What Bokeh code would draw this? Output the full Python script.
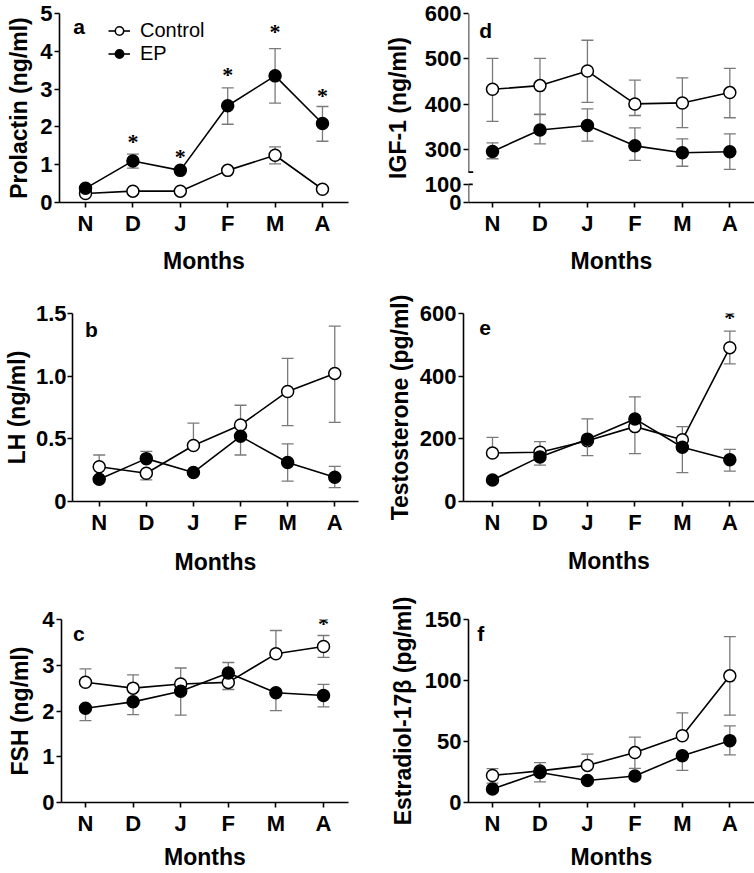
from bokeh.plotting import figure
from bokeh.layouts import row, column
from bokeh.models import (Range1d, FixedTicker, Legend, LegendItem, Label, LabelSet,
                          ColumnDataSource, Arrow)
from bokeh.embed import file_html
from bokeh.resources import INLINE

FONT = "Liberation Sans"
ERR = "#7a7a7a"

months = ["N", "D", "J", "F", "M", "A"]
xpos = [0, 1, 2, 3, 4, 5]

# a  Prolactin (ng/ml)
prl_ctrl = [0.24, 0.30, 0.30, 0.85, 1.25, 0.35]
prl_ctrl_hi = [0.24, 0.30, 0.30, 0.85, 1.47, 0.35]
prl_ctrl_lo = [0.24, 0.30, 0.30, 0.85, 1.02, 0.35]
prl_ep = [0.375, 1.10, 0.85, 2.56, 3.35, 2.09]
prl_ep_hi = [0.375, 1.28, 0.85, 3.03, 4.07, 2.54]
prl_ep_lo = [0.375, 0.91, 0.85, 2.07, 2.63, 1.62]
prl_star_x = [1, 2, 3, 4, 5]
prl_star_y = [1.42, 1.03, 3.19, 4.33, 2.64]

# b  LH (ng/ml)
lh_ctrl = [0.277, 0.225, 0.447, 0.611, 0.878, 1.022]
lh_ctrl_hi = [0.371, 0.225, 0.625, 0.768, 1.142, 1.40]
lh_ctrl_lo = [0.277, 0.172, 0.447, 0.611, 0.606, 0.632]
lh_ep = [0.178, 0.342, 0.232, 0.52, 0.311, 0.193]
lh_ep_hi = [0.178, 0.40, 0.232, 0.52, 0.46, 0.28]
lh_ep_lo = [0.178, 0.342, 0.232, 0.371, 0.162, 0.11]

# c  FSH (ng/ml)
fsh_ctrl = [2.63, 2.50, 2.59, 2.625, 3.25, 3.41]
fsh_ctrl_hi = [2.92, 2.79, 2.94, 2.625, 3.76, 3.65]
fsh_ctrl_lo = [2.63, 2.50, 2.59, 2.47, 3.25, 3.17]
fsh_ep = [2.06, 2.20, 2.43, 2.83, 2.40, 2.34]
fsh_ep_hi = [2.06, 2.20, 2.43, 3.06, 2.40, 2.58]
fsh_ep_lo = [1.79, 1.92, 1.91, 2.83, 2.01, 2.09]
fsh_star_x = [5]
fsh_star_y = [3.74]

# d  IGF-1 (ng/ml)  (broken axis)
igf_ctrl = [432.8, 440.9, 473, 400.5, 402.7, 425.5]
igf_ctrl_hi = [501, 501, 541, 453, 458, 479]
igf_ctrl_lo = [362, 378, 404, 375, 348, 370]
igf_ep = [295.6, 343, 352.8, 308, 292.7, 294.9]
igf_ep_hi = [314.7, 377, 389.5, 347.7, 323.5, 334.5]
igf_ep_lo = [279.5, 312.5, 318.3, 275.8, 263, 256]

# e  Testosterone (pg/ml)
tes_ctrl = [155, 157, 194, 239, 197, 491]
tes_ctrl_hi = [204.6, 190.9, 263.6, 239, 239, 544]
tes_ctrl_lo = [155, 157, 194, 153, 197, 439]
tes_ep = [68.5, 142.4, 199, 263.6, 173, 133]
tes_ep_hi = [68.5, 142.4, 199, 334, 173, 166.6]
tes_ep_lo = [68.5, 116, 146.6, 263.6, 92, 97]
tes_star_x = [5]
tes_star_y = [562]

# f  Estradiol-17beta (pg/ml)
e2_ctrl = [22.2, 25.9, 30.4, 40.9, 54.7, 103.8]
e2_ctrl_hi = [27.7, 32.7, 39.6, 53.6, 73.4, 136]
e2_ctrl_lo = [22.2, 25.9, 30.4, 28, 54.7, 71.6]
e2_ep = [11.1, 24.6, 18, 21.7, 38.3, 50.7]
e2_ep_hi = [15.8, 24.6, 18, 21.7, 38.3, 62.8]
e2_ep_lo = [11.1, 16.9, 18, 21.7, 26.4, 39.1]


# broken-axis scale for panel d: 0..100 compressed, >=250 linear
def brk(v):
    return v if v >= 200 else 183 + 0.4 * v


def make_fig(w, h, bl, br, bt, bb, xr, yr, yticks, ylabels, ylabel, lab_std, xlab_std, tick_std=2):
    p = figure(width=w, height=h, x_range=Range1d(*xr), y_range=Range1d(*yr),
               output_backend="svg", toolbar_location=None,
               min_border_left=bl, min_border_right=br, min_border_top=bt, min_border_bottom=bb)
    p.outline_line_color = None
    p.xgrid.visible = False
    p.ygrid.visible = False
    p.background_fill_color = "white"
    p.border_fill_color = "white"
    for ax in (p.xaxis[0], p.yaxis[0]):
        ax.axis_line_width = 1.6
        ax.axis_line_color = "black"
        ax.major_tick_line_width = 1.6
        ax.major_tick_line_color = "black"
        ax.major_tick_out = 5
        ax.major_tick_in = 0
        ax.minor_tick_line_color = None
        ax.major_label_text_font = FONT
        ax.major_label_text_font_style = "bold"
        ax.major_label_text_color = "black"
        ax.axis_label_text_font = FONT
        ax.axis_label_text_font_style = "bold"
        ax.axis_label_text_font_size = "23px"
        ax.axis_label_text_color = "black"
    xa = p.xaxis[0]
    xa.ticker = FixedTicker(ticks=xpos)
    xa.major_label_overrides = {i: m for i, m in zip(xpos, months)}
    xa.major_label_text_font_size = "22px"
    xa.major_label_standoff = 3
    xa.axis_label = "Months"
    xa.axis_label_standoff = xlab_std
    ya = p.yaxis[0]
    ya.ticker = FixedTicker(ticks=yticks)
    ya.major_label_overrides = {t: l for t, l in zip(yticks, ylabels)}
    ya.major_label_text_font_size = "22px"
    ya.major_label_standoff = tick_std
    ya.axis_label = ylabel
    ya.axis_label_standoff = lab_std
    return p


def draw_series(p, mean, hi, lo, fill):
    src = ColumnDataSource(dict(x=xpos, y=mean, hi=hi, lo=lo))
    p.segment(x0="x", y0="lo", x1="x", y1="hi", source=src, line_color=ERR, line_width=1.3)
    cx = [x for x, m, v in zip(xpos, mean, hi) if v != m] + [x for x, m, v in zip(xpos, mean, lo) if v != m]
    cy = [v for m, v in zip(mean, hi) if v != m] + [v for m, v in zip(mean, lo) if v != m]
    p.scatter(cx, cy, marker="dash", size=12, line_color=ERR, line_width=1.3)
    ln = p.line("x", "y", source=src, line_color="black", line_width=1.6)
    mk = p.scatter("x", "y", source=src, marker="circle", size=12, fill_color=fill,
                   line_color="black", line_width=1.5)
    return ln, mk


def stars(p, xs, ys):
    src = ColumnDataSource(dict(x=xs, y=ys, t=["*"] * len(xs)))
    p.add_layout(LabelSet(x="x", y="y", text="t", source=src, text_align="center",
                          text_baseline="alphabetic", text_font=FONT, text_font_style="bold",
                          text_font_size="22px", text_color="black"))


def letter(p, t, x, y):
    p.add_layout(Label(x=x, y=y, text=t, text_align="left", text_baseline="alphabetic",
                       text_font=FONT, text_font_style="bold", text_font_size="21px",
                       text_color="black"))


W = 377

# ---- a
pa = make_fig(W, 290, 59, 29, 13, 88, (-0.549, 5.549), (0, 5), [0, 1, 2, 3, 4, 5],
              ["0", "1", "2", "3", "4", "5"], "Prolactin (ng/ml)", 5, 9)
lc, mc = draw_series(pa, prl_ctrl, prl_ctrl_hi, prl_ctrl_lo, "white")
le, me = draw_series(pa, prl_ep, prl_ep_hi, prl_ep_lo, "black")
stars(pa, prl_star_x, prl_star_y)
letter(pa, "a", -0.26, 4.66)
leg = Legend(items=[LegendItem(label="Control", renderers=[lc, mc]),
                    LegendItem(label="EP", renderers=[le, me])],
             location=(49, 137), glyph_width=22, glyph_height=21, label_height=21,
             label_standoff=10, spacing=0, padding=0, margin=0,
             border_line_color=None, background_fill_alpha=0,
             label_text_font=FONT, label_text_font_size="20px", label_text_color="black")
pa.add_layout(leg)

# ---- d
pd_ = make_fig(W, 290, 91, 0, 13, 88, (-0.506, 5.52), (183, 600),
               [brk(0), brk(100), 300, 400, 500, 600],
               ["0", "100", "300", "400", "500", "600"], "IGF-1 (ng/ml)", 11, 9)
pd_.yaxis[0].axis_line_color = None
xs0 = -0.506
for y0, y1 in ((brk(0), brk(100)), (250, 600)):
    pd_.add_layout(Arrow(end=None, x_start=xs0, y_start=y0, x_end=xs0, y_end=y1,
                         line_color="black", line_width=1.6))
pd_.add_layout(Arrow(end=None, x_start=xs0 - 0.1, y_start=250, x_end=xs0 + 0.1, y_end=250,
                     line_color="black", line_width=1.6))
pd_.add_layout(Arrow(end=None, x_start=xs0, y_start=brk(100), x_end=xs0 + 0.09, y_end=brk(100),
                     line_color="black", line_width=1.6))
draw_series(pd_, [brk(v) for v in igf_ctrl], [brk(v) for v in igf_ctrl_hi],
            [brk(v) for v in igf_ctrl_lo], "white")
draw_series(pd_, [brk(v) for v in igf_ep], [brk(v) for v in igf_ep_hi],
            [brk(v) for v in igf_ep_lo], "black")
letter(pd_, "d", -0.28, 562)

# ---- b
pb = make_fig(W, 290, 69, 19, 20, 79, (-0.567, 5.504), (0, 1.5), [0, 0.5, 1.0, 1.5],
              ["0", "0.5", "1.0", "1.5"], "LH (ng/ml)", 3, 11, tick_std=1)
draw_series(pb, lh_ctrl, lh_ctrl_hi, lh_ctrl_lo, "white")
draw_series(pb, lh_ep, lh_ep_hi, lh_ep_lo, "black")
letter(pb, "b", -0.30, 1.375)

# ---- e
pe = make_fig(W, 290, 86, 0, 23, 78, (-0.611, 5.52), (0, 600), [0, 200, 400, 600],
              ["0", "200", "400", "600"], "Testosterone (pg/ml)", 4, 10)
draw_series(pe, tes_ctrl, tes_ctrl_hi, tes_ctrl_lo, "white")
draw_series(pe, tes_ep, tes_ep_hi, tes_ep_lo, "black")
stars(pe, tes_star_x, tes_star_y)
letter(pe, "e", -0.28, 554.7)

# ---- c
pc = make_fig(W, 292, 61, 29, 36, 64, (-0.504, 5.525), (0, 4), [0, 1, 2, 3, 4],
              ["0", "1", "2", "3", "4"], "FSH (ng/ml)", 6, 5)
draw_series(pc, fsh_ctrl, fsh_ctrl_hi, fsh_ctrl_lo, "white")
draw_series(pc, fsh_ep, fsh_ep_hi, fsh_ep_lo, "black")
stars(pc, fsh_star_x, fsh_star_y)
letter(pc, "c", -0.26, 3.69)

# ---- f
pf = make_fig(W, 292, 91, 0, 39, 64, (-0.506, 5.52), (0, 150), [0, 50, 100, 150],
              ["0", "50", "100", "150"], "Estradiol-17\u03b2 (pg/ml)", 6, 5)
draw_series(pf, e2_ctrl, e2_ctrl_hi, e2_ctrl_lo, "white")
draw_series(pf, e2_ep, e2_ep_hi, e2_ep_lo, "black")
letter(pf, "f", -0.32, 138.7)

layout = column(row(pa, pd_), row(pb, pe), row(pc, pf))
open("out.html", "w").write(file_html(layout, INLINE))
